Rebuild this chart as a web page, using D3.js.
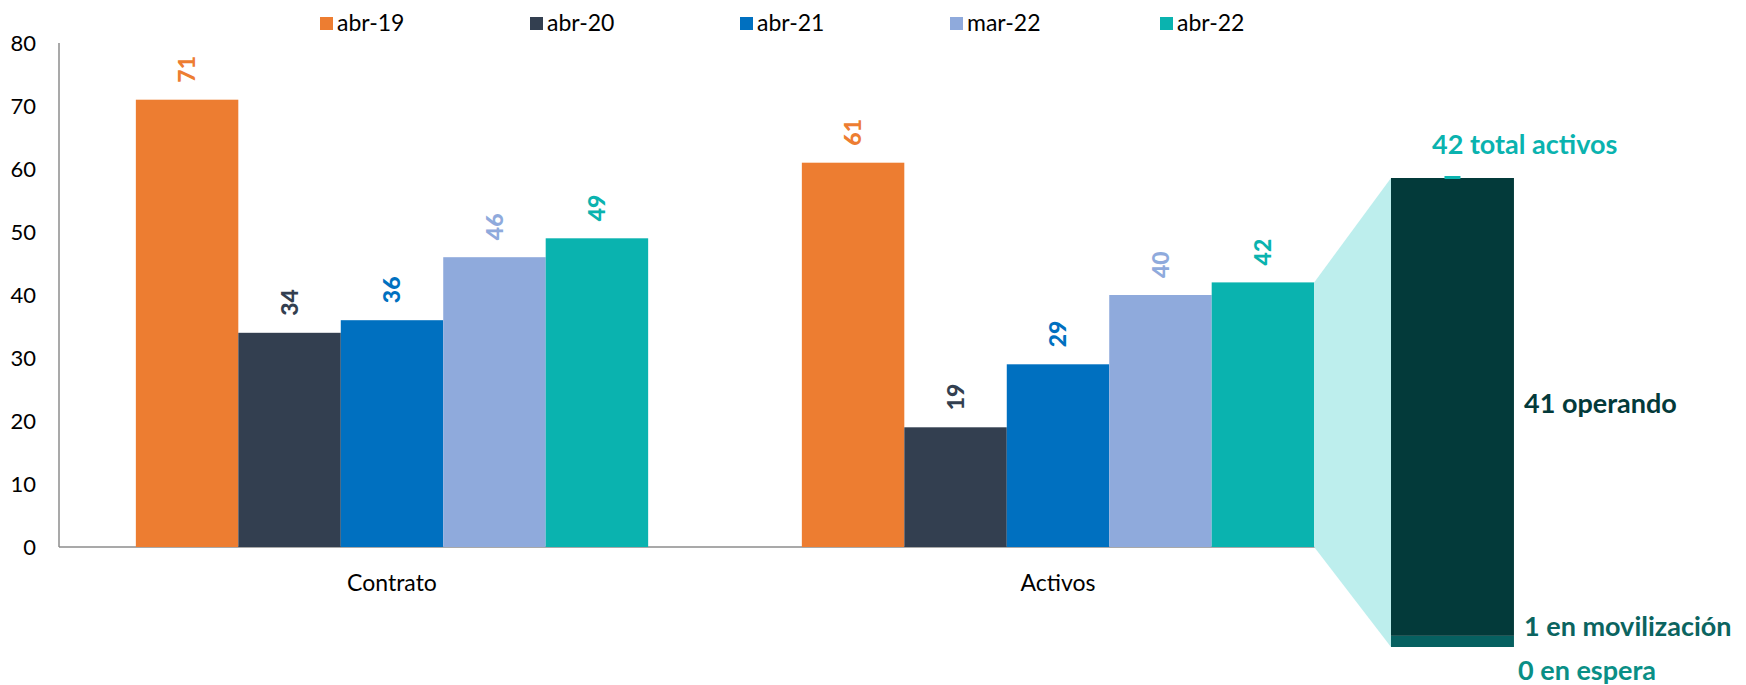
<!DOCTYPE html>
<html>
<head>
<meta charset="utf-8">
<script src="https://cdn.jsdelivr.net/npm/d3@7"></script>
<style>
  body { margin: 0; background: white; }
  svg { display: block; font-family: Lato, "Open Sans", sans-serif; }
</style>
</head>
<body>
<div id="chart"></div>
<script>
// data
const categories = ["Contrato", "Activos"];
const series = ["abr-19", "abr-20", "abr-21", "mar-22", "abr-22"];
const contrato = [71, 34, 36, 46, 49];
const activos = [61, 19, 29, 40, 42];
const y_ticks = [0, 10, 20, 30, 40, 50, 60, 70, 80];
const breakout_parts = ["en movilización", "operando"];
const breakout_values = [1, 41];
const breakout_espera = 0;
const breakout_total = 42;

const colors = ["#ED7D31", "#333F50", "#0070C0", "#8FAADC", "#0AB3AF"];

const width = 1746, height = 685;

const svg = d3.select("#chart")
  .append("svg")
  .attr("width", width)
  .attr("height", height)
;

svg.append("rect")
  .attr("width", "100%")
  .attr("height", "100%")
  .attr("fill", "white")
;

const rows = categories.map((c, i) => ({
  category: c,
  values: (i == 0 ? contrato : activos).map((v, j) => ({ series: series[j], value: v, color: colors[j] }))
}));

const x = d3.scaleBand()
  .domain(categories)
  .range([59, 1391])
;

const x_sub = d3.scaleBand()
  .domain(series)
  .range([0, x.bandwidth()])
  .paddingOuter(0.75)
  .paddingInner(0)
;

const y = d3.scaleLinear()
  .domain([0, 80])
  .range([547, 43])
;

// y axis
svg.append("line")
  .attr("x1", 59).attr("x2", 59)
  .attr("y1", y(80)).attr("y2", y(0))
  .attr("stroke", "#8c8c8c")
  .attr("stroke-width", 1.5)
;

svg.append("g")
  .selectAll("text")
  .data(y_ticks)
  .enter()
  .append("text")
  .attr("x", 36)
  .attr("y", d => y(d))
  .attr("dy", "0.35em")
  .attr("text-anchor", "end")
  .attr("font-size", 22)
  .attr("fill", "#000")
  .text(d => d)
;

// x axis
svg.append("line")
  .attr("x1", 59).attr("x2", x.range()[1])
  .attr("y1", y(0)).attr("y2", y(0))
  .attr("stroke", "#8c8c8c")
  .attr("stroke-width", 1.5)
;

svg.append("g")
  .selectAll("text")
  .data(categories)
  .enter()
  .append("text")
  .attr("x", d => x(d) + x.bandwidth() / 2)
  .attr("y", 591)
  .attr("text-anchor", "middle")
  .attr("font-size", 23)
  .attr("fill", "#000")
  .text(d => d)
;

// bars
const groups = svg.append("g")
  .selectAll("g")
  .data(rows)
  .enter()
  .append("g")
  .attr("transform", d => "translate(" + x(d.category) + ",0)")
;

groups.selectAll("rect")
  .data(d => d.values)
  .enter()
  .append("rect")
  .attr("x", d => x_sub(d.series))
  .attr("width", x_sub.bandwidth())
  .attr("y", d => y(d.value))
  .attr("height", d => y(0) - y(d.value))
  .attr("fill", d => d.color)
;

groups.selectAll("text")
  .data(d => d.values)
  .enter()
  .append("text")
  .attr("transform", d => "translate(" + (x_sub(d.series) + x_sub.bandwidth() / 2) + "," + (y(d.value) - 17) + ") rotate(-90)")
  .attr("dy", "0.35em")
  .attr("text-anchor", "start")
  .attr("font-size", 23)
  .attr("font-weight", 900)
  .attr("fill", d => d.color)
  .text(d => d.value)
;

// breakout bar for the activos of abr-22
const bx = x.range()[1];
const bw = x_sub.bandwidth() * 1.2;
const y2 = d3.scaleLinear()
  .domain([0, breakout_total])
  .range([647, 178])
;

const last_x = x("Activos") + x_sub("abr-22") + x_sub.bandwidth();
const last_v = activos[activos.length - 1];

svg.append("polygon")
  .attr("points", [
    [last_x, y(last_v)],
    [bx, y2(breakout_total)],
    [bx, y2(0)],
    [last_x, y(0)]
  ].map(p => p.join(",")).join(" "))
  .attr("fill", "#BDEEED")
;

const stack = d3.cumsum(breakout_values);
const part_colors = ["#066060", "#033A3A"];

svg.append("g")
  .selectAll("rect")
  .data(breakout_values)
  .enter()
  .append("rect")
  .attr("x", bx)
  .attr("width", bw)
  .attr("y", (d, i) => y2(stack[i]))
  .attr("height", d => y2(0) - y2(d))
  .attr("fill", (d, i) => part_colors[i])
;

// total marker
svg.append("rect")
  .attr("x", bx + bw / 2 - 8)
  .attr("width", 16)
  .attr("y", y2(breakout_total) - 2)
  .attr("height", 3)
  .attr("fill", "#0AB3AF")
;

const notes = [
  { text: breakout_total + " total activos", x: bx + 41, y: y2(breakout_total) - 24, color: "#0AB3AF" },
  { text: breakout_values[1] + " " + breakout_parts[1], x: bx + 133, y: 413, color: "#033A3A" },
  { text: breakout_values[0] + " " + breakout_parts[0], x: bx + 133, y: 636, color: "#0B6460" },
  { text: breakout_espera + " en espera", x: bx + 127, y: 680, color: "#0A8F86" }
];

svg.append("g")
  .selectAll("text")
  .data(notes)
  .enter()
  .append("text")
  .attr("x", d => d.x)
  .attr("y", d => d.y)
  .attr("font-size", 27)
  .attr("font-weight", "bold")
  .attr("fill", d => d.color)
  .text(d => d.text)
;

// legend
const legend = svg.append("g")
  .selectAll("g")
  .data(series)
  .enter()
  .append("g")
  .attr("transform", (d, i) => "translate(" + (320 + i * 210) + ",17)")
;

legend.append("rect")
  .attr("width", 13)
  .attr("height", 13)
  .attr("fill", (d, i) => colors[i])
;

legend.append("text")
  .attr("x", 17)
  .attr("y", 14)
  .attr("font-size", 23)
  .attr("fill", "#000")
  .text(d => d)
;
</script>
</body>
</html>
